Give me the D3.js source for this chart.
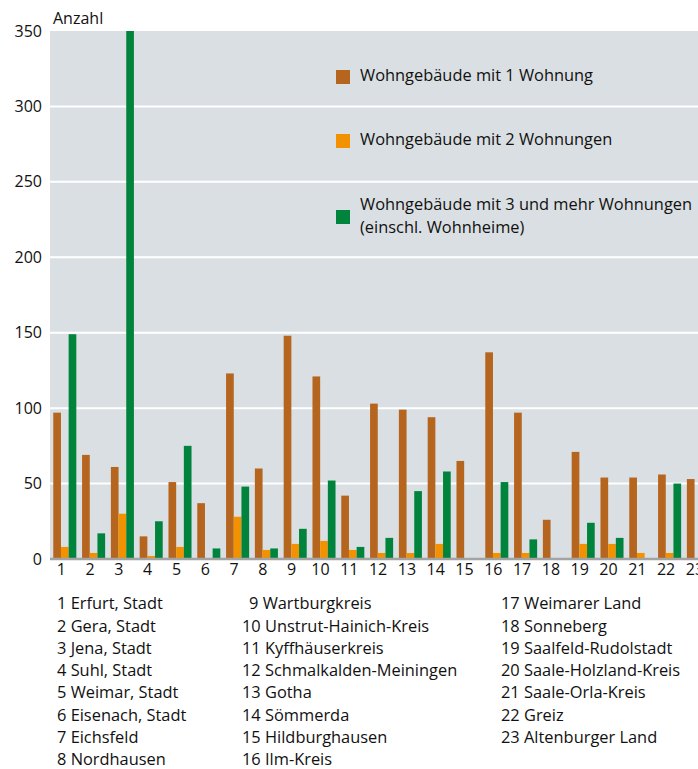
<!DOCTYPE html>
<html><head><meta charset="utf-8">
<script src="https://cdn.jsdelivr.net/npm/d3@7"></script>
<style>body{margin:0;background:#fff}text{font-family:"Open Sans",sans-serif;fill:#111}</style>
</head><body><svg id="c" width="698" height="769"></svg>
<script>
const categories = ["1","2","3","4","5","6","7","8","9","10","11","12","13","14","15","16","17","18","19","20","21","22","23"];
const seriesNames = ["Wohngebäude mit 1 Wohnung","Wohngebäude mit 2 Wohnungen","Wohngebäude mit 3 und mehr Wohnungen|(einschl. Wohnheime)"];
const oneFlat   = [97,69,61,15,51,37,123,60,148,121,42,103,99,94,65,137,97,26,71,54,54,56,53];
const twoFlats  = [8,4,30,2,8,0,28,6,10,12,6,4,4,10,0,4,4,0,10,10,4,4,0];
const threePlus = [149,17,365,25,75,7,48,7,20,52,8,14,45,58,0,51,13,0,24,14,0,50,0];
const yTicks = [0,50,100,150,200,250,300,350];
const districts = ["1 Erfurt, Stadt","2 Gera, Stadt","3 Jena, Stadt","4 Suhl, Stadt","5 Weimar, Stadt","6 Eisenach, Stadt","7 Eichsfeld","8 Nordhausen",
 "9 Wartburgkreis","10 Unstrut-Hainich-Kreis","11 Kyffhäuserkreis","12 Schmalkalden-Meiningen","13 Gotha","14 Sömmerda","15 Hildburghausen","16 Ilm-Kreis",
 "17 Weimarer Land","18 Sonneberg","19 Saalfeld-Rudolstadt","20 Saale-Holzland-Kreis","21 Saale-Orla-Kreis","22 Greiz","23 Altenburger Land"];
const colors = ["#b5651d","#f39200","#00843d"];
const seriesKeys = ["a","b","c"];

const svg = d3.select("#c");
const W = 698, plotL = 50, plotT = 31, plotB = 559;
const data = categories.map((c,i)=>({cat:c,a:oneFlat[i],b:twoFlats[i],c:threePlus[i]}));

const y = d3.scaleLinear().domain([0,350]).range([plotB, plotT]);
const x = d3.scaleBand().domain(categories).range([50.4, 50.4+23*28.8]).paddingInner(0.2).paddingOuter(0.1);
const xs = d3.scaleBand().domain(seriesKeys).range([0, x.bandwidth()]);

svg.append("defs").append("clipPath").attr("id","pc").append("rect")
  .attr("x",plotL).attr("y",plotT).attr("width",W-plotL).attr("height",plotB-plotT);

svg.append("rect").attr("x",plotL).attr("y",plotT).attr("width",W-plotL).attr("height",plotB-plotT).attr("fill","#d9dfe2");

// gridlines
svg.append("g").selectAll("line").data(yTicks.filter(t=>t>0&&t<350)).join("line")
  .attr("x1",plotL).attr("x2",W).attr("y1",d=>y(d)).attr("y2",d=>y(d))
  .attr("stroke","#fff").attr("stroke-width",2);

// bars
const g = svg.append("g").attr("clip-path","url(#pc)");
g.selectAll("g").data(data).join("g").attr("transform",d=>`translate(${x(d.cat)},0)`)
  .selectAll("rect").data(d=>seriesKeys.map((k,i)=>({k,v:d[k],i}))).join("rect")
  .attr("x",d=>xs(d.k)).attr("width",xs.bandwidth())
  .attr("y",d=>y(d.v)).attr("height",d=>plotB-y(d.v)).attr("fill",d=>colors[d.i]);

// baseline
svg.append("line").attr("x1",plotL).attr("x2",W).attr("y1",plotB).attr("y2",plotB).attr("stroke","#a3a3a3").attr("stroke-width",2.5);

// y axis
const ya = svg.append("g").attr("transform",`translate(${plotL},0)`)
  .call(d3.axisLeft(y).tickValues(yTicks).tickSize(0).tickPadding(8));
ya.select(".domain").remove();
ya.selectAll("text").attr("font-size",16).attr("font-family","Open Sans").attr("fill","#111");

svg.append("text").attr("x",53).attr("y",24).attr("font-size",16).text("Anzahl");

// x axis
const xa = svg.append("g").attr("transform",`translate(-3.5,${plotB})`)
  .call(d3.axisBottom(x).tickSize(0).tickPadding(5));
xa.select(".domain").remove();
xa.selectAll("text").attr("font-size",16).attr("font-family","Open Sans").attr("fill","#111");

// legend
const legY = [76,140,216];
seriesNames.forEach((n,i)=>{
  svg.append("rect").attr("x",336).attr("y",[70,134,210][i]).attr("width",14).attr("height",14).attr("fill",colors[i]);
  const lines = n.split("|");
  lines.forEach((l,j)=>{
    svg.append("text").attr("x",360).attr("y",legY[i]+(lines.length>1? (j===0?-12:11):-1)).attr("dy","0.35em")
      .attr("font-size",16.4).text(l);
  });
});

// district list
const colX = [57,242,501];
districts.forEach((d,i)=>{
  const col = i<8?0:(i<16?1:2), row = i - col*8;
  svg.append("text").attr("x", colX[col] + (i===8?7:0)).attr("y",603.5+row*22.3).attr("dy","0.35em")
    .attr("font-size",16.4).text(d);
});
</script></body></html>
